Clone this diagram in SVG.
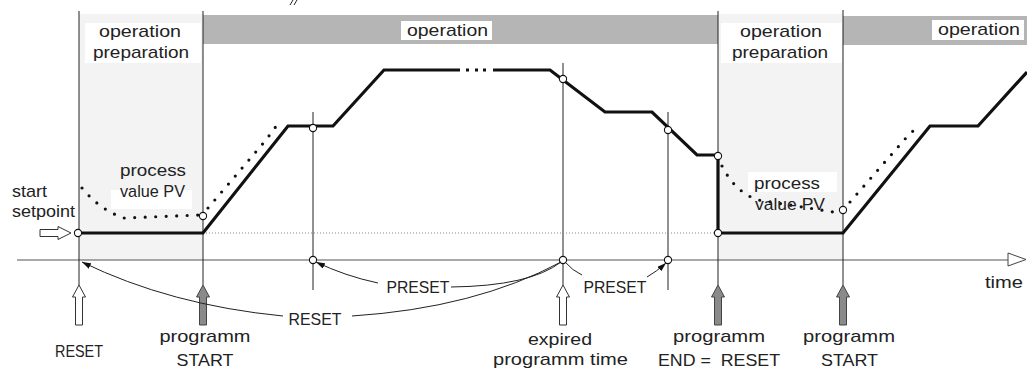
<svg xmlns="http://www.w3.org/2000/svg" xmlns:xlink="http://www.w3.org/1999/xlink" width="1027" height="369" viewBox="0 0 1027 369">
<style>
text{font-family:"Liberation Sans",Arial,sans-serif;font-size:17px;fill:#222;text-anchor:middle;white-space:pre}
.thin{stroke:#222;stroke-width:1;fill:none}
.thick{stroke:#111;stroke-width:3.2;fill:none;stroke-linejoin:miter}
.dots{stroke:#111;stroke-width:3.2;fill:none;stroke-linecap:round;stroke-dasharray:0 10.5}
.circ{fill:#fff;stroke:#111;stroke-width:1.1}
.hollow{fill:#fff;stroke:#333;stroke-width:1}
.filled{fill:#8a8a8a;stroke:#444;stroke-width:1}
.lbl{fill:#fff}
</style>
<defs>
<path id="up" d="M0,285 L6.5,297 L3.5,297 L3.5,325 L-3.5,325 L-3.5,297 L-6.5,297 Z"/>
<marker id="ah" markerUnits="userSpaceOnUse" markerWidth="9" markerHeight="6" refX="9" refY="3" orient="auto"><path d="M0,0 L9,3 L0,6 Z" fill="#111"/></marker>
</defs>
<rect width="1027" height="369" fill="#fff"/>
<g id="phases">
<rect x="79" y="14" width="124" height="246" fill="#f3f3f3"/>
<rect x="718" y="14" width="125" height="246" fill="#f3f3f3"/>
<rect x="203" y="15" width="515" height="29" fill="#b5b5b5"/>
<rect x="843" y="16" width="184" height="29" fill="#b5b5b5"/>
<path d="M290,5 L293,0 M294,5 L297,0" class="thin"/>
</g>
<g id="phase-labels">
<rect class="lbl" x="85" y="23" width="116" height="40"/>
<text x="140" y="37" textLength="82" lengthAdjust="spacingAndGlyphs">operation</text>
<text x="141" y="58" textLength="96" lengthAdjust="spacingAndGlyphs">preparation</text>
<rect class="lbl" x="401" y="21" width="91" height="19"/>
<text x="447.5" y="36" textLength="81" lengthAdjust="spacingAndGlyphs">operation</text>
<rect class="lbl" x="721" y="23" width="121" height="40"/>
<text x="781" y="37" textLength="82" lengthAdjust="spacingAndGlyphs">operation</text>
<text x="780" y="58" textLength="96" lengthAdjust="spacingAndGlyphs">preparation</text>
<rect class="lbl" x="932" y="20" width="92" height="20"/>
<text x="979" y="35" textLength="82" lengthAdjust="spacingAndGlyphs">operation</text>
</g>
<g id="axis">
<line x1="17" y1="260" x2="1008" y2="260" stroke="#555" stroke-width="1.2"/>
<path d="M1008,253 L1026,259.5 L1008,266 Z" fill="#fff" stroke="#444" stroke-width="1"/>
<text x="1004" y="288" textLength="38" lengthAdjust="spacingAndGlyphs">time</text>
</g>
<g id="markers-lines">
<line class="thin" x1="79" y1="11" x2="79" y2="285"/>
<line class="thin" x1="203" y1="11" x2="203" y2="285"/>
<line class="thin" x1="718" y1="11" x2="718" y2="285"/>
<line class="thin" x1="843" y1="10" x2="843" y2="285"/>
<line class="thin" x1="563" y1="63" x2="563" y2="285"/>
<line class="thin" x1="313" y1="112" x2="313" y2="290"/>
<line class="thin" x1="668" y1="112" x2="668" y2="290"/>
<line x1="203" y1="233" x2="718" y2="233" stroke="#888" stroke-width="1" stroke-dasharray="1 2"/>
</g>
<g id="process-value">
<rect class="lbl" x="111" y="190" width="81" height="19"/>
<path class="dots" d="M82,188 Q100,210 124,218 L200,215"/>
<path class="dots" d="M208,208 L266,140 L277,125"/>
<rect class="lbl" x="748" y="172" width="89" height="20"/>
<path class="dots" d="M722,166 Q735,192 758,200 L840,213"/>
<path class="dots" d="M850,202 L905,139 L918,126"/>
<text x="153" y="176" textLength="66" lengthAdjust="spacingAndGlyphs">process</text>
<text x="152.5" y="197" textLength="65" lengthAdjust="spacingAndGlyphs">value PV</text>
<text x="787" y="189" textLength="66" lengthAdjust="spacingAndGlyphs">process</text>
<text x="790" y="210" textLength="70" lengthAdjust="spacingAndGlyphs">value PV</text>
</g>
<g id="setpoint">
<path class="thick" d="M79,233 L203,233 L288,126 L333,126 L384,70 L460,70"/>
<path class="thick" d="M493,70 L550,70 L605,112 L652,112 L697,155 L718,155 L718,233 L843,233 L930,126 L978,126 L1027,72"/>
<path d="M466,70 L469,70 M475,70 L478,70 M483,70 L486,70" stroke="#111" stroke-width="3"/>
</g>
<g id="points">
<circle class="circ" cx="78" cy="233" r="3.6"/>
<circle class="circ" cx="203" cy="216" r="3.6"/>
<circle class="circ" cx="313" cy="128" r="3.6"/>
<circle class="circ" cx="563" cy="79" r="3.6"/>
<circle class="circ" cx="668" cy="130" r="3.6"/>
<circle class="circ" cx="718" cy="156" r="3.6"/>
<circle class="circ" cx="718" cy="233" r="3.6"/>
<circle class="circ" cx="843" cy="210" r="3.6"/>
<circle class="circ" cx="313" cy="260" r="3.6"/>
<circle class="circ" cx="563" cy="260" r="3.6"/>
<circle class="circ" cx="668" cy="260" r="3.6"/>
</g>
<g id="start-setpoint">
<path class="hollow" d="M40,229.5 L58,229.5 L58,226.5 L71,233 L58,239.5 L58,236.5 L40,236.5 Z"/>
<text x="12" y="197" style="text-anchor:start" textLength="35" lengthAdjust="spacingAndGlyphs">start</text>
<text x="12" y="217" style="text-anchor:start" textLength="63" lengthAdjust="spacingAndGlyphs">setpoint</text>
</g>
<g id="event-reset">
<use xlink:href="#up" href="#up" class="hollow" transform="translate(79,0)"/>
<text x="79" y="357" textLength="48" lengthAdjust="spacingAndGlyphs">RESET</text>
</g>
<g id="event-start1">
<use xlink:href="#up" href="#up" class="filled" transform="translate(203,0)"/>
<text x="205" y="342" textLength="91" lengthAdjust="spacingAndGlyphs">programm</text>
<text x="205" y="366" textLength="57" lengthAdjust="spacingAndGlyphs">START</text>
</g>
<g id="event-expired">
<use xlink:href="#up" href="#up" class="hollow" transform="translate(563,0)"/>
<text x="560" y="345" textLength="64" lengthAdjust="spacingAndGlyphs">expired</text>
<text x="560.5" y="365" textLength="135" lengthAdjust="spacingAndGlyphs">programm time</text>
</g>
<g id="event-end">
<use xlink:href="#up" href="#up" class="filled" transform="translate(718,0)"/>
<text x="719" y="342" textLength="92" lengthAdjust="spacingAndGlyphs">programm</text>
<text x="719" y="366" textLength="122" lengthAdjust="spacingAndGlyphs">END =  RESET</text>
</g>
<g id="event-start2">
<use xlink:href="#up" href="#up" class="filled" transform="translate(843,0)"/>
<text x="849" y="342" textLength="92" lengthAdjust="spacingAndGlyphs">programm</text>
<text x="849.5" y="366" textLength="57" lengthAdjust="spacingAndGlyphs">START</text>
</g>
<g id="connectors">
<path class="thin" d="M283,316 Q170,305 82,262" marker-end="url(#ah)"/>
<path class="thin" d="M352,316 Q475,308 561,262"/>
<path class="thin" d="M378,283 Q345,276 316,262" marker-end="url(#ah)"/>
<path class="thin" d="M451,287 Q530,286 561,262"/>
<path class="thin" d="M565,262 Q573,271 582,275"/>
<path class="thin" d="M647,277 Q656,272 666,263" marker-end="url(#ah)"/>
<text x="315" y="325" textLength="53" lengthAdjust="spacingAndGlyphs">RESET</text>
<text x="418" y="292.5" textLength="63" lengthAdjust="spacingAndGlyphs">PRESET</text>
<text x="615" y="292.5" textLength="63" lengthAdjust="spacingAndGlyphs">PRESET</text>
</g>
</svg>
